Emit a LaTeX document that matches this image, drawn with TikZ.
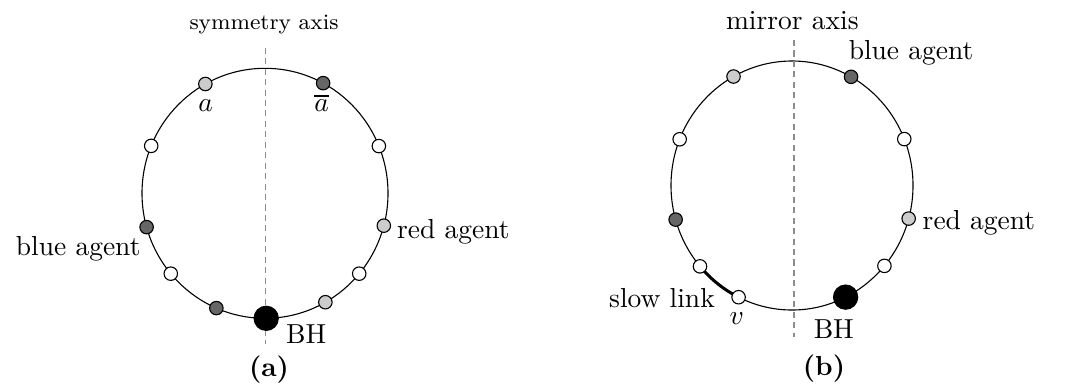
\documentclass[tikz,border=0pt]{standalone}
\usetikzlibrary{calc}
\definecolor{lightg}{gray}{0.8}
\definecolor{darkg}{gray}{0.4}
\definecolor{axisg}{gray}{0.55}
\tikzset{
  ring/.style={draw, line width=0.4pt},
  vtx/.style={circle, draw=black, inner sep=0pt, minimum size=4.9pt, line width=0.4pt},
  wnode/.style={vtx, fill=white},
  lnode/.style={vtx, fill=lightg},
  dnode/.style={vtx, fill=darkg},
  bhnode/.style={circle, draw=black, fill=black, inner sep=0pt, minimum size=8.8pt},
  axisline/.style={draw=axisg, line width=0.4pt, dash pattern=on 2.2pt off 1.6pt},
  lbl/.style={inner sep=0pt, font=\normalsize},
  slowlink/.style={line width=1.1pt}
}
\begin{document}
\begin{tikzpicture}[x=0.3636pt, y=-0.3636pt]
\useasboundingbox (0,0) rectangle (1067,387);

% ---------------- panel (a) ----------------
\draw[ring] (265,193.3) ellipse [x radius=123, y radius=125];
\coordinate (axAtop) at (265.7,47.7);
\coordinate (axAbot) at (265.7,344.3);
\draw[axisline] (axAtop) -- (axAbot);
\foreach \n/\ang/\st in {A1/119/lnode, A2/61.8/dnode, A3/157.7/wnode, A4/22.2/wnode,
  A5/195.7/dnode, A6/345/lnode, A7/220/wnode, A8/320/wnode, A9/246.7/dnode, A10/299.4/lnode}
  \node[\st] (\n) at ({265+123*cos(\ang)},{193.3-125*sin(\ang)}) {};
\node[bhnode] (BHa) at (266.2,318.3) {};

\node[lbl, font=\footnotesize] (symlbl) at (264,25) {symmetry axis};
\node[lbl] (la) at (205.7,106) {$a$};
\node[lbl] (lbara) at (321.7,103) {$\overline{a}$};
\node[lbl] (blueA) at (78.2,249) {blue agent};
\node[lbl] (redA) at (453.3,231.7) {red agent};
\node[lbl] (bhA) at (306.2,334) {BH};
\node[lbl] (capA) at (269,370) {\textbf{(a)}};

% ---------------- panel (b) ----------------
\draw[ring] (792,185.5) ellipse [x radius=121, y radius=124.5];
\coordinate (axBtop) at (794,40);
\coordinate (axBbot) at (794,337.3);
\draw[axisline] (axBtop) -- (axBbot);
% slow link: thick arc along the ring between the two nodes
\coordinate (slowS) at ({792+121*cos(220.5)},{185.5-124.5*sin(220.5)});
\draw[slowlink] (slowS) arc [start angle=-220.5, end angle=-243.8, x radius=121, y radius=124.5];
\foreach \n/\ang/\st in {B1/118.9/lnode, B2/60.8/dnode, B3/158.2/wnode, B4/21.9/wnode,
  B5/195.9/dnode, B6/344.6/lnode, B7/220.5/wnode, B8/319.8/wnode, Bv/243.8/wnode}
  \node[\st] (\n) at ({792+121*cos(\ang)},{185.5-124.5*sin(\ang)}) {};
\node[bhnode] (BHb) at ({792+121*cos(296.3)},{185.5-124.5*sin(296.3)}) {};

\node[lbl] (mirlbl) at (792.3,21) {mirror axis};
\node[lbl] (blueB) at (911,52.5) {blue agent};
\node[lbl] (redB) at (978.9,222.5) {red agent};
\node[lbl] (slowB) at (662,298) {slow link};
\node[lbl] (lv) at (736.7,318.3) {$v$};
\node[lbl] (bhB) at (833.8,328.7) {BH};
\node[lbl] (capB) at (824,368.3) {\textbf{(b)}};
\end{tikzpicture}
\end{document}
